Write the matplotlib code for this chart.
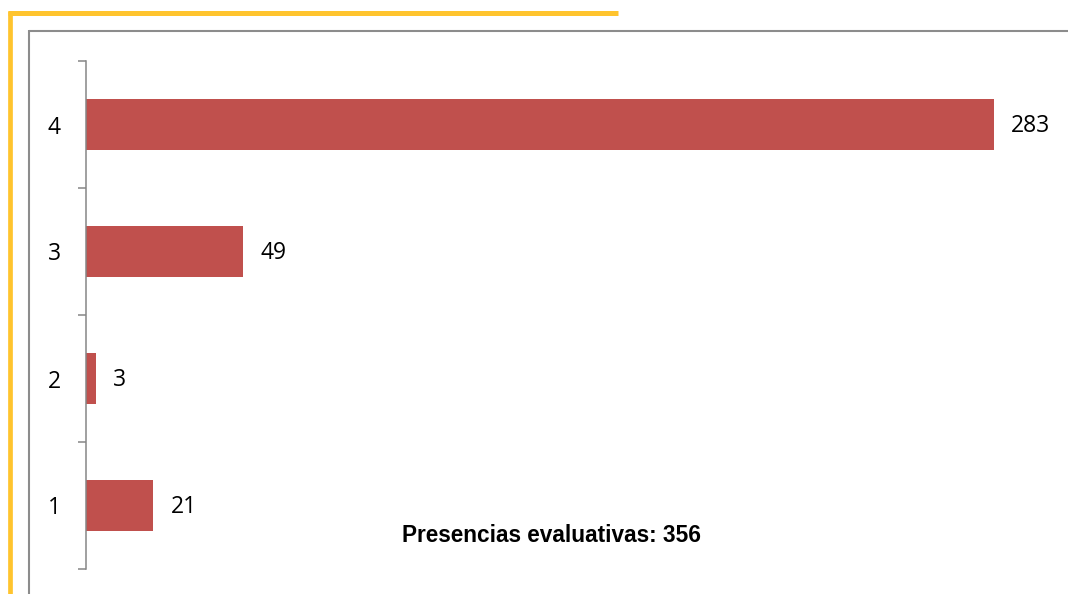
import matplotlib
matplotlib.use("Agg")
import matplotlib.pyplot as plt
from matplotlib.lines import Line2D
from matplotlib.ticker import FixedLocator

categories = ["1", "2", "3", "4"]
values = [21, 3, 49, 283]
title_text = "Presencias evaluativas: 356"

W, H = 1068, 594
fig = plt.figure(figsize=(W / 100, H / 100), dpi=100)

def fx(px):
    return px / W

def fy(py):
    return 1 - py / H

# decorative frame lines
yellow = "#FFC42E"
fig.add_artist(Line2D([fx(8), fx(618)], [fy(13), fy(13)], color=yellow, lw=3.6,
                      transform=fig.transFigure, solid_capstyle="butt"))
fig.add_artist(Line2D([fx(10), fx(10)], [fy(11), fy(600)], color=yellow, lw=3.4,
                      transform=fig.transFigure, solid_capstyle="butt"))
gray = "#8C8C8C"
fig.add_artist(Line2D([fx(29), fx(1070)], [fy(31), fy(31)], color=gray, lw=1.5,
                      transform=fig.transFigure, solid_capstyle="butt"))
fig.add_artist(Line2D([fx(29), fx(29)], [fy(30), fy(600)], color=gray, lw=1.5,
                      transform=fig.transFigure, solid_capstyle="butt"))

left_px, right_px, top_px, bot_px = 86, 1060, 61, 569
ax = fig.add_axes([fx(left_px), fy(bot_px), fx(right_px - left_px), (bot_px - top_px) / H])

pos = list(range(1, len(categories) + 1))
ax.barh(pos, values, height=0.4, color="#C0504D")

px_per_unit = (994 - 86) / 283
ax.set_xlim(0, (right_px - left_px) / px_per_unit)
ax.set_ylim(0.5, len(categories) + 0.5)

for s in ["top", "right", "bottom"]:
    ax.spines[s].set_visible(False)
ax.spines["left"].set_color("#868686")
ax.spines["left"].set_linewidth(1.1)
ax.set_xticks([])

ax.set_yticks(pos)
ax.set_yticklabels(categories, fontsize=16.5, family=["Open Sans", "DejaVu Sans"])
ax.tick_params(axis="y", which="major", length=0, pad=18)
ax.yaxis.set_minor_locator(FixedLocator([p + 0.5 for p in [0] + pos]))
ax.tick_params(axis="y", which="minor", length=6, width=1.1, color="#868686")

for p, v in zip(pos, values):
    ax.annotate(str(v), xy=(v, p), xytext=(12.5, -1), textcoords="offset points",
                va="center", ha="left", fontsize=16.5, family=["Open Sans", "DejaVu Sans"])

t = fig.text(fx(552), fy(536), title_text, ha="center", va="center", fontsize=17,
             fontweight="bold", family=["Liberation Sans", "DejaVu Sans"], color="#000000")

# fit title to the reference width (slightly over, to keep it prominent)
fig.canvas.draw()
bb = t.get_window_extent()
target = 300
t.set_fontsize(t.get_fontsize() * target / bb.width)

fig.savefig("out.png", dpi=100)
